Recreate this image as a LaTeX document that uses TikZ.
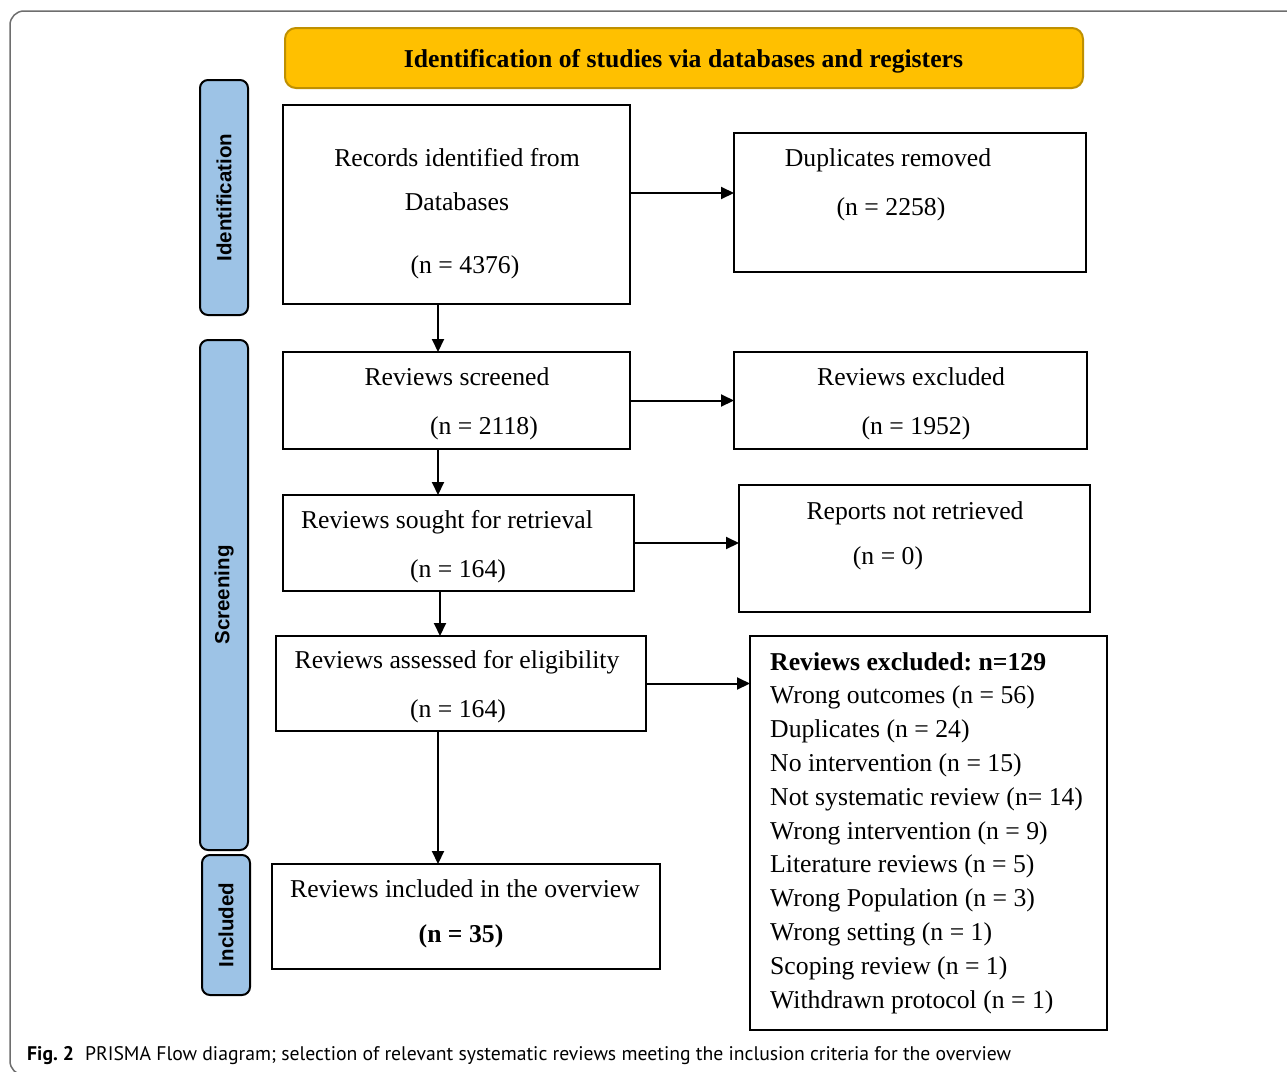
\documentclass[tikz,border=0pt]{standalone}
\usepackage{fontspec}
\setmainfont{Liberation Serif}
\newfontfamily\labfont{Liberation Sans}
\newfontfamily\capfont{PT Sans}
\usetikzlibrary{arrows.meta}
\definecolor{labblue}{HTML}{9DC3E6}
\definecolor{titlegold}{HTML}{FFC000}
\definecolor{titleedge}{HTML}{BF9000}
\definecolor{framegray}{HTML}{6E6E6E}
\frenchspacing
\newcommand\flowbox[6][box]{\node[#1, minimum width={#5-#3}, minimum height={#6-#4}] (#2) at ({(#3+#5)/2},{(#4+#6)/2}) {};}
\begin{document}
\begin{tikzpicture}[x=1pt,y=-1pt,
  box/.style={draw=black, line width=2pt, inner sep=0pt, outer sep=0pt},
  titlebox/.style={draw=titleedge, fill=titlegold, line width=2pt, rounded corners=11pt, inner sep=0pt, outer sep=0pt},
  stagebox/.style={draw=black, line width=2pt, fill=labblue, rounded corners=8pt, inner sep=0pt, outer sep=0pt},
  stagetext/.style={font=\labfont\bfseries\fontsize{20.5}{24}\selectfont, rotate=90, inner sep=0pt},
  txt/.style={font=\fontsize{25.7}{30}\selectfont, anchor=base, inner sep=0pt},
  listtxt/.style={font=\fontsize{25.7}{30}\selectfont, anchor=base west, inner sep=0pt},
  arr/.style={line width=2pt, -{Triangle[length=13pt,width=12pt]}},
]
\useasboundingbox (0,0) rectangle (1287,1071);
\fill[white] (0,0) rectangle (1287,1071);
\begin{scope}
  \clip (0,0) rectangle (1287,1071);
  \draw[framegray, line width=1.5pt, rounded corners=14pt] (10,11) rectangle (1330,1075);
\end{scope}

% title
\flowbox[titlebox]{title}{285}{28}{1083}{88}
\node[font=\bfseries\fontsize{25.7}{30}\selectfont, anchor=base, inner sep=0pt] (titletext) at (683.5,67) {Identification of studies via databases and registers};

% stage labels
\flowbox[stagebox]{idlab}{200}{80}{248}{315}
\flowbox[stagebox]{scrlab}{200}{340}{248}{850}
\flowbox[stagebox]{inclab}{202}{855}{250}{995}
\node[stagetext] (idtext) at (idlab.center) {Identification};
\node[stagetext] (scrtext) at (scrlab.center) {Screening};
\node[stagetext] (inctext) at (inclab.center) {Included};

% boxes
\flowbox{rec}{283}{105}{630}{304}
\flowbox{dup}{734}{133}{1086}{272}
\flowbox{scr}{283}{352}{630}{449}
\flowbox{exc}{734}{352}{1087}{449}
\flowbox{sou}{283}{495}{634}{591}
\flowbox{nre}{739}{485}{1090}{612}
\flowbox{ass}{276}{636}{646}{731}
\flowbox{inc}{272}{864}{660}{969}
\flowbox{exl}{750}{636}{1107}{1030}

% texts
\node[txt] (rect1) at (457,166) {Records identified from};
\node[txt] (rect2) at (457,210) {Databases};
\node[txt] (rect3) at (465,273) {(n = 4376)};
\node[txt] (dupt1) at (888,166) {Duplicates removed};
\node[txt] (dupt2) at (891,215) {(n = 2258)};
\node[txt] (scrt1) at (457,385) {Reviews screened};
\node[txt] (scrt2) at (484,434) {(n = 2118)};
\node[txt] (exct1) at (911,385) {Reviews excluded};
\node[txt] (exct2) at (916,434) {(n = 1952)};
\node[txt] (sout1) at (447,528) {Reviews sought for retrieval};
\node[txt] (sout2) at (458,577) {(n = 164)};
\node[txt] (nret1) at (915,519) {Reports not retrieved};
\node[txt] (nret2) at (888,564) {(n = 0)};
\node[txt] (asst1) at (457,668) {Reviews assessed for eligibility};
\node[txt] (asst2) at (458,717) {(n = 164)};
\node[txt] (inct1) at (465,897) {Reviews included in the overview};
\node[txt, font=\bfseries\fontsize{25.7}{30}\selectfont] (inct2) at (461,942) {(n = 35)};

\node[listtxt, font=\bfseries\fontsize{25.7}{30}\selectfont] (ex0) at (770,670) {Reviews excluded: n=129};
\foreach \t [count=\i] in {Wrong outcomes (n = 56), Duplicates (n = 24), No intervention (n = 15), Not systematic review (n= 14), Wrong intervention (n = 9), Literature reviews (n = 5), Wrong Population (n = 3), Wrong setting (n = 1), Scoping review (n = 1), Withdrawn protocol (n = 1)}
  \node[listtxt] (ex\i) at (770,{670+33.8*\i}) {\t};

% arrows
\coordinate (h1) at ([yshift=11.5pt]rec.east);
\draw[arr] (h1) -- (h1 -| dup.west);
\draw[arr] (scr.east) -- (scr.east -| exc.west);
\draw[arr] (sou.east) -- (sou.east -| nre.west);
\draw[arr] (ass.east) -- (ass.east -| exl.west);
\coordinate (v1) at ([xshift=-18.5pt]rec.south);
\draw[arr] (v1) -- (v1 |- scr.north);
\coordinate (v2) at ([xshift=-18.5pt]scr.south);
\draw[arr] (v2) -- (v2 |- sou.north);
\coordinate (v3) at ([xshift=-18.5pt]sou.south);
\draw[arr] (v3) -- (v3 |- ass.north);
\coordinate (v4) at ([xshift=-23pt]ass.south);
\draw[arr] (v4) -- (v4 |- inc.north);

% caption
\node[anchor=base west, inner sep=0pt, font=\capfont\fontsize{19.7}{22}\selectfont] (cap) at (27,1060) {\textbf{Fig. 2}\hspace{11pt}PRISMA Flow diagram; selection of relevant systematic reviews meeting the inclusion criteria for the overview};
\end{tikzpicture}
\end{document}
